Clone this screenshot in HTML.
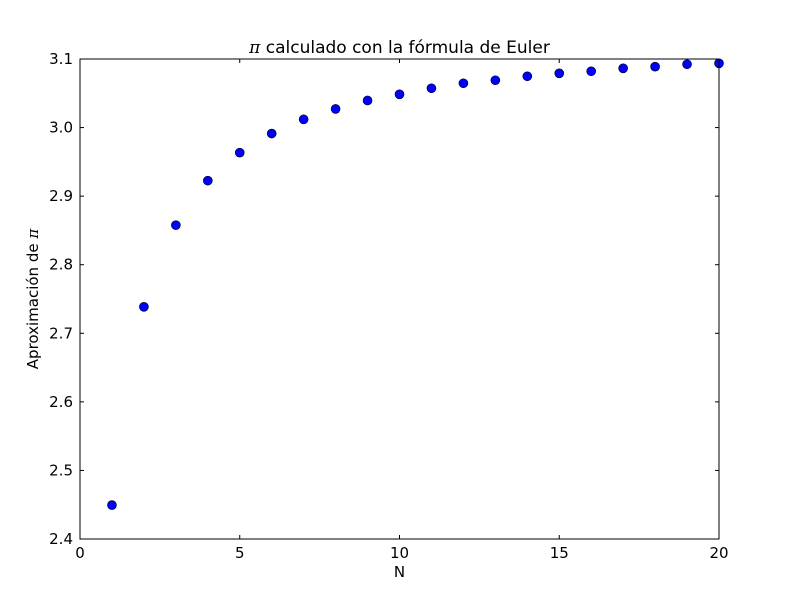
<!DOCTYPE html>
<html><head><meta charset="utf-8"><style>
body{margin:0;background:#fff;}
svg text{font-family:"DejaVu Sans","Liberation Sans",sans-serif;fill:#000;}
</style></head><body>
<svg id="c" width="800" height="600" xmlns="http://www.w3.org/2000/svg">
<rect width="800" height="600" fill="#fff"/>
<g id="marks"></g>
<rect x="80" y="59" width="639" height="480" fill="none" stroke="#000" stroke-width="1"/>
<g id="ticks"></g>
<text x="399.5" y="53" font-size="17" text-anchor="middle"><tspan font-style="italic" font-family="DejaVu Serif,serif">π</tspan> calculado con la fórmula de Euler</text>
<text x="399.5" y="577" font-size="15" text-anchor="middle">N</text>
<text transform="translate(38,299) rotate(-90)" font-size="15" text-anchor="middle">Aproximación de <tspan font-style="italic" font-family="DejaVu Serif,serif">π</tspan></text>
</svg>
<script>
const nValues=[1,2,3,4,5,6,7,8,9,10,11,12,13,14,15,16,17,18,19,20];
const piApprox=[2.4495,2.7386,2.8577,2.9226,2.9634,2.9913,3.0120,3.0272,3.0395,3.0485,3.0573,3.0646,3.0690,3.0748,3.0791,3.0821,3.0864,3.0888,3.0923,3.0937];
const xTicks=[0,5,10,15,20];
const yTicks=[2.4,2.5,2.6,2.7,2.8,2.9,3.0,3.1];
const X0=80,X1=719,Y0=539,Y1=59;
const xs=v=>X0+(v-0)/(20-0)*(X1-X0);
const ys=v=>Y0-(v-2.4)/(3.1-2.4)*(Y0-Y1);
const NS="http://www.w3.org/2000/svg";
const marks=document.getElementById('marks'),ticks=document.getElementById('ticks');
function mk(t,a,p){const e=document.createElementNS(NS,t);for(const k in a)e.setAttribute(k,a[k]);p.appendChild(e);return e;}
nValues.forEach((n,i)=>{
 const c=mk('circle',{cx:xs(n),cy:ys(piApprox[i]),r:4.5,fill:'#0000ff',stroke:'#000','stroke-width':0.6},marks);
 
 
});
xTicks.forEach(v=>{
 const x=xs(v);
 mk('line',{x1:x,x2:x,y1:Y0,y2:Y0-4,stroke:'#000'},ticks);
 mk('line',{x1:x,x2:x,y1:Y1,y2:Y1+4,stroke:'#000'},ticks);
 const t=mk('text',{x:x,y:Y0+19,'font-size':15,'text-anchor':'middle'},ticks);
 t.textContent=v;
 
 
});
yTicks.forEach(v=>{
 const y=ys(v);
 mk('line',{x1:X0,x2:X0+4,y1:y,y2:y,stroke:'#000'},ticks);
 mk('line',{x1:X1,x2:X1-4,y1:y,y2:y,stroke:'#000'},ticks);
 const t=mk('text',{x:X0-7,y:y+5,'font-size':15,'text-anchor':'end'},ticks);
 t.textContent=v.toFixed(1);
 
 
});
</script>
</body></html>
